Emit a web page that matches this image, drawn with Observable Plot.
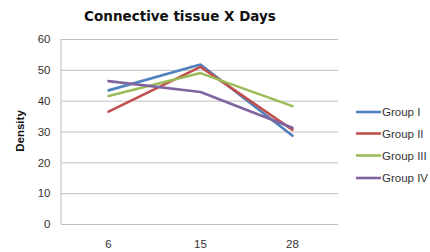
<!DOCTYPE html>
<html><head><meta charset="utf-8">
<script src="https://cdn.jsdelivr.net/npm/d3@7"></script>
<script src="https://cdn.jsdelivr.net/npm/@observablehq/plot@0.6"></script>
<style>body{margin:0;background:#fff}</style>
</head><body><div id="chart"></div>
<script>
const days = ["6", "15", "28"];
const groups = ["Group I", "Group II", "Group III", "Group IV"];
const groupI = [43.5, 51.9, 28.8];
const groupII = [36.6, 51.1, 30.7];
const groupIII = [41.7, 49.1, 38.4];
const groupIV = [46.5, 43.0, 31.4];
const colors = ["#4F81BD", "#C0504D", "#9BBB59", "#8064A2"];
const yTicks = [0, 10, 20, 30, 40, 50, 60];
const title = "Connective tissue X Days";
const yLabel = "Density";

const series = [groupI, groupII, groupIII, groupIV];
const rows = [];
series.forEach((vals, gi) => vals.forEach((v, di) => rows.push({group: groups[gi], day: days[di], value: v})));

const font = "'Liberation Sans', Arial, sans-serif";
const plot = Plot.plot({
  width: 430, height: 252,
  marginLeft: 61, marginRight: 92, marginTop: 39, marginBottom: 28,
  style: {fontFamily: font, fontSize: "11px", color: "#333", background: "#fff"},
  x: {type: "point", domain: days, padding: 0.5, label: null},
  y: {domain: [0, 60], label: null},
  color: {domain: groups, range: colors},
  marks: [
    Plot.ruleY(yTicks, {stroke: "#c0c0c0", strokeWidth: 1}),
    Plot.axisY({ticks: yTicks, tickSize: 0, tickPadding: 11, fontSize: 11.5, fill: "#333"}),
    Plot.axisX({tickSize: 0, tickPadding: 15, fontSize: 11.5, fill: "#333"}),
    Plot.line(rows, {x: "day", y: "value", z: "group", stroke: "group", strokeWidth: 2.6, strokeLinejoin: "miter"})
  ]
});
const svg = d3.select(plot);
svg.append("line").attr("x1", 61).attr("x2", 61).attr("y1", 39).attr("y2", 224).attr("stroke", "#c0c0c0");
svg.append("text").attr("x", 180).attr("y", 21).attr("text-anchor", "middle")
  .attr("font-family", "'DejaVu Sans', Verdana, sans-serif").attr("font-weight", "bold").attr("font-size", 13.5).attr("fill", "#111").text(title);
svg.append("text").attr("transform", "translate(24,131) rotate(-90)").attr("text-anchor", "middle")
  .attr("font-family", font).attr("font-weight", "bold").attr("font-size", 11.5).attr("fill", "#111").text(yLabel);
const legY = [112, 133.5, 155.5, 178];
groups.forEach((g, i) => {
  const gg = svg.append("g").attr("text-anchor", "start");
  gg.append("line").attr("x1", 356).attr("x2", 381).attr("y1", legY[i]).attr("y2", legY[i]).attr("stroke", colors[i]).attr("stroke-width", 2.6);
  gg.append("text").attr("x", 382).attr("y", legY[i]).attr("dy", "0.35em").attr("font-family", font).attr("font-size", 11.5).attr("fill", "#333").text(g);
});
document.getElementById("chart").appendChild(plot);
</script></body></html>
